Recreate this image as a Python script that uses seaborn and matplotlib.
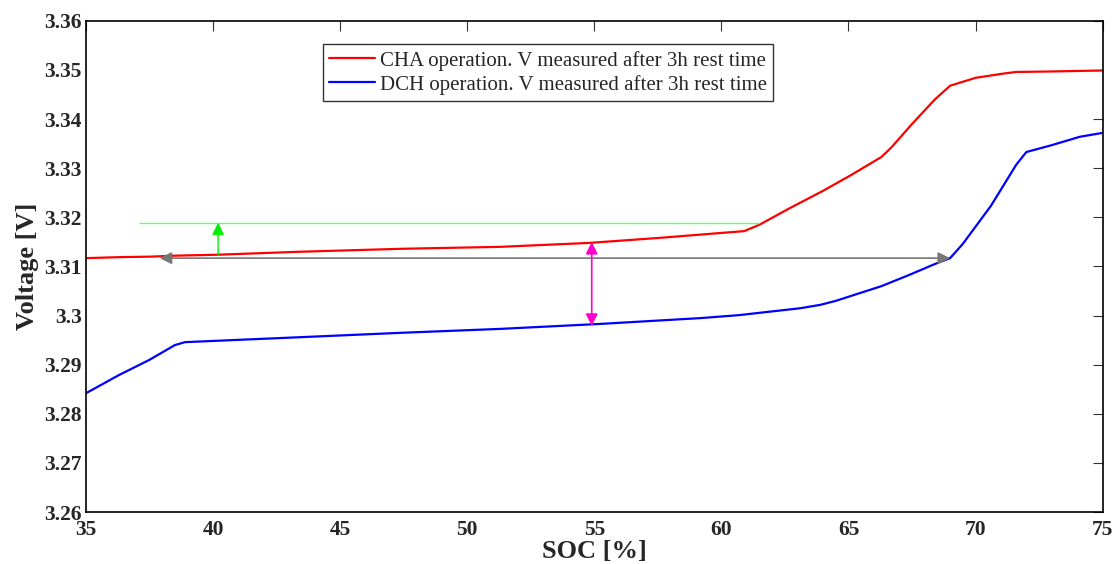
import numpy as np
import pandas as pd
import matplotlib
matplotlib.use("Agg")
import matplotlib.pyplot as plt
import seaborn as sns

# valores
soc_cha = [35, 36.3, 37.5, 38.5, 40.2, 43.4, 47.4, 51.3, 54.8, 57.5, 60.9, 61.5,
           62.7, 64.0, 65.1, 66.3, 66.7, 67.5, 68.4, 69.0, 70.0, 71.0, 71.6, 73.0, 75.0]
v_cha = [3.3117, 3.3119, 3.3120, 3.3122, 3.3124, 3.3130, 3.3136, 3.3140, 3.3148, 3.3158,
         3.3172, 3.3185, 3.3219, 3.3254, 3.3286, 3.3323, 3.3343, 3.3390, 3.3440, 3.3468,
         3.3484, 3.3492, 3.3496, 3.3497, 3.3499]
soc_dch = [35, 36.3, 37.5, 38.5, 38.9, 40.7, 43.4, 47.4, 51.3, 55.2, 59.2, 60.7, 63.1,
           63.9, 64.5, 65.1, 66.3, 67.4, 68.4, 69.0, 69.5, 70.6, 71.6, 72.0, 73.0, 74.1, 75.0]
v_dch = [3.2842, 3.2879, 3.2910, 3.2940, 3.2946, 3.2950, 3.2956, 3.2965, 3.2973, 3.2983,
         3.2995, 3.3001, 3.3015, 3.3022, 3.3030, 3.3040, 3.3060, 3.3083, 3.3105, 3.3117,
         3.3146, 3.3223, 3.3307, 3.3333, 3.3347, 3.3364, 3.3372]

lbl_cha = "CHA operation. V measured after 3h rest time"
lbl_dch = "DCH operation. V measured after 3h rest time"

# anotaciones
green_y, green_x0, green_x1 = 3.3189, 37.1, 61.5
green_arrow_x, green_arrow_y0 = 40.2, 3.3124
gray_y, gray_x0, gray_x1 = 3.3117, 37.9, 69.0
mag_x, mag_y0, mag_y1 = 54.9, 3.3150, 3.2979

df = pd.concat([
    pd.DataFrame({"SOC": soc_cha, "V": v_cha, "serie": lbl_cha}),
    pd.DataFrame({"SOC": soc_dch, "V": v_dch, "serie": lbl_dch}),
])

sns.set_style("white")
plt.rcParams['font.family'] = ['Liberation Serif', 'DejaVu Serif']

fig, ax = plt.subplots(figsize=(11.16, 5.64), dpi=100)
fig.subplots_adjust(left=0.077, right=0.988, top=0.963, bottom=0.092)

sns.lineplot(data=df, x="SOC", y="V", hue="serie",
             palette={lbl_cha: "#ff0000", lbl_dch: "#0000ff"},
             linewidth=1.6, ax=ax, sort=False)

ax.hlines(green_y, green_x0, green_x1, color="#66ff66", linewidth=1.0)
ax.annotate("", xy=(green_arrow_x, green_y), xytext=(green_arrow_x, green_arrow_y0),
            arrowprops=dict(arrowstyle="-|>", color="#00ee00", lw=1.0,
                            mutation_scale=18, shrinkA=0, shrinkB=0))
ax.annotate("", xy=(gray_x0, gray_y), xytext=(gray_x1, gray_y),
            arrowprops=dict(arrowstyle="<|-|>", color="#777777", lw=1.2,
                            mutation_scale=18, shrinkA=0, shrinkB=0))
ax.annotate("", xy=(mag_x, mag_y0), xytext=(mag_x, mag_y1),
            arrowprops=dict(arrowstyle="<|-|>", color="#ff00cc", lw=1.2,
                            mutation_scale=18, shrinkA=0, shrinkB=0))

ax.set_xlim(35, 75)
ax.set_ylim(3.26, 3.36)
ax.set_xticks(np.arange(35, 76, 5))
ax.set_yticks(np.arange(3.26, 3.3601, 0.01))
ax.set_xticklabels([str(v) for v in range(35, 76, 5)])
ax.set_yticklabels(["3.26", "3.27", "3.28", "3.29", "3.3", "3.31", "3.32",
                    "3.33", "3.34", "3.35", "3.36"])
ax.tick_params(direction="in", length=7, width=0.8, top=True, right=True,
               labelsize=15.5, color="#333333")
ax.tick_params(axis="x", pad=6)
ax.tick_params(axis="y", pad=3)
for t in ax.get_xticklabels() + ax.get_yticklabels():
    t.set_fontweight("bold")
for s in ax.spines.values():
    s.set_linewidth(1.2)
    s.set_color("black")

ax.set_xlabel("SOC [%]", fontsize=19, fontweight="bold", labelpad=0)
ax.set_ylabel("Voltage [V]", fontsize=19, fontweight="bold", labelpad=4)

leg = ax.legend(loc="upper left", bbox_to_anchor=(0.233, 0.952), fontsize=15,
                frameon=True, fancybox=False, edgecolor="black",
                handlelength=2.2, handletextpad=0.25, borderpad=0.3,
                labelspacing=0.2, borderaxespad=0)
leg.get_frame().set_linewidth(1.0)
leg.set_title(None)

fig.savefig("out.png", dpi=100)
